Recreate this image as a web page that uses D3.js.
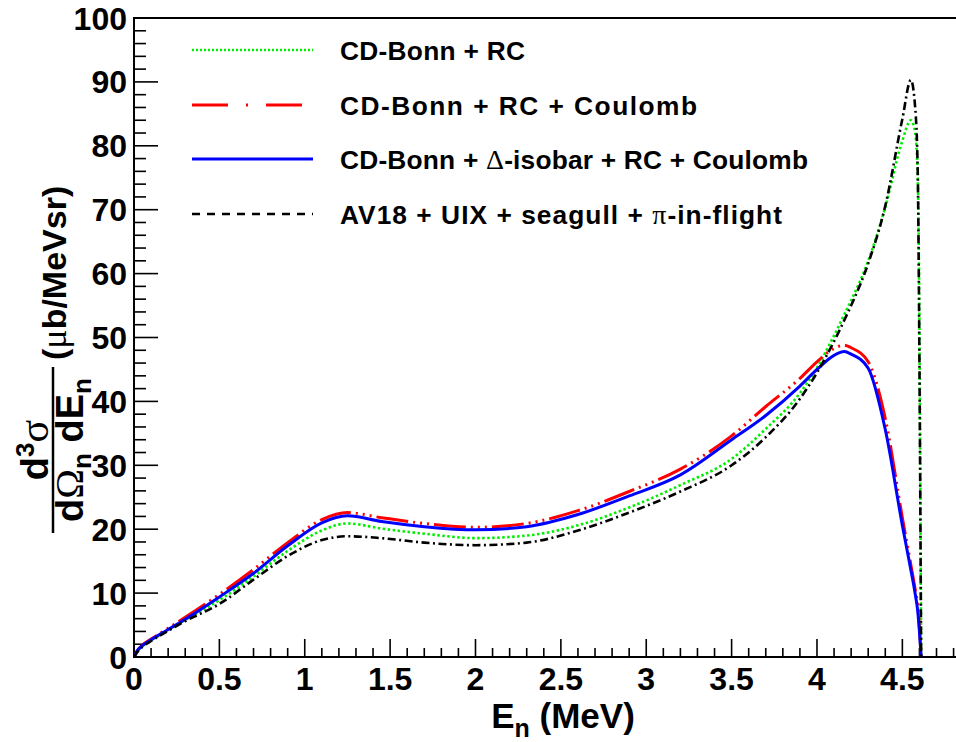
<!DOCTYPE html>
<html><head><meta charset="utf-8">
<script src="https://cdn.jsdelivr.net/npm/d3@7"></script>
<style>html,body{margin:0;padding:0;background:#fff;}svg{display:block;}</style>
</head><body>
<svg id="chart" width="956" height="742"></svg>
<script>
// ---- data ----
const energy = [0, 0.02, 0.05, 0.1, 0.2, 0.3, 0.5, 0.7, 0.9, 1.1, 1.25, 1.45, 1.7, 2.0, 2.3, 2.6, 2.9, 3.2, 3.5, 3.7, 3.9, 4.0, 4.1, 4.16, 4.2, 4.3, 4.4, 4.5, 4.55, 4.575, 4.59, 4.6, 4.61];
const sigmaCDBonnRC =        [0, 0.9, 1.7, 2.6, 4.2, 5.8, 8.9, 12.6, 16.6, 19.8, 20.9, 20.1, 19.3, 18.6, 19.0, 20.6, 23.4, 26.9, 31.0, 35.7, 41.3, 45.3, 50.3, 53.6, 55.8, 62.0, 70.4, 80.8, 84.0, 82.0, 75.0, 52.0, 0];
const sigmaCDBonnRCCoulomb = [0, 1.0, 1.9, 2.8, 4.5, 6.2, 9.8, 13.7, 17.9, 21.5, 22.6, 21.8, 20.9, 20.3, 20.9, 22.9, 25.9, 29.4, 34.6, 39.2, 43.6, 46.2, 48.3, 48.8, 48.4, 46.2, 37.3, 21.8, 14.4, 10.6, 8.0, 4.6, 0];
const sigmaCDBonnDeltaRCCoulomb = [0, 1.0, 1.8, 2.7, 4.3, 5.9, 9.4, 13.1, 17.4, 21.0, 22.1, 21.2, 20.4, 19.9, 20.4, 22.3, 25.2, 28.5, 34.0, 37.8, 42.4, 45.0, 47.2, 47.8, 47.4, 45.2, 35.6, 20.6, 13.6, 9.9, 7.2, 4.0, 0];
const sigmaAV18UIX =         [0, 0.8, 1.6, 2.5, 4.1, 5.6, 8.3, 12.1, 15.8, 18.3, 18.9, 18.6, 17.9, 17.5, 17.9, 19.8, 22.6, 25.9, 30.0, 34.4, 40.4, 44.5, 49.4, 52.7, 55.0, 61.6, 70.6, 84.2, 90.3, 86.0, 76.0, 46.0, 0];
const xTickValues = [0, 0.5, 1, 1.5, 2, 2.5, 3, 3.5, 4, 4.5];
const xTickLabels = ["0", "0.5", "1", "1.5", "2", "2.5", "3", "3.5", "4", "4.5"];
const yTickValues = [0, 10, 20, 30, 40, 50, 60, 70, 80, 90, 100];
const yTickLabels = ["0", "10", "20", "30", "40", "50", "60", "70", "80", "90", "100"];
const legendLabels = [
  ["CD-Bonn + RC"],
  ["CD-Bonn + RC + Coulomb"],
  ["CD-Bonn + ", "Δ", "-isobar + RC + Coulomb"],
  ["AV18 + UIX + seagull + ", "π", "-in-flight"]
];

// ---- layout ----
const svg = d3.select("#chart");
const L = 134, R = 957, T = 18, B = 657;
const x = d3.scaleLinear().domain([0, 4.82]).range([L, R]);
const y = d3.scaleLinear().domain([0, 100]).range([B, T]);
const FONT = "'Liberation Sans', Arial, Helvetica, sans-serif";
const GREEK = "'Liberation Serif', 'DejaVu Serif', serif";

const series = [
  {vals: sigmaCDBonnRC, color: "#00ee00", width: 2.6, dash: "2.5,2.5", ldash: "2,2"},
  {vals: sigmaCDBonnRCCoulomb, color: "#ff0000", width: 3, dash: "32,5,2,5,2,5,2,5", ldash: "36,18,2,18"},
  {vals: sigmaCDBonnDeltaRCCoulomb, color: "#0000ff", width: 3, dash: null, ldash: null},
  {vals: sigmaAV18UIX, color: "#000000", width: 2.6, dash: "8,3.5,2,3.5", ldash: "8,7"}
];

svg.append("defs").append("clipPath").attr("id", "clip")
  .append("rect").attr("x", L).attr("y", T).attr("width", R - L).attr("height", B - T);

// frame
svg.append("rect").attr("x", L).attr("y", T).attr("width", R - L).attr("height", B - T)
  .attr("fill", "none").attr("stroke", "#000").attr("stroke-width", 2);

// ticks
const tickG = svg.append("g").attr("stroke", "#000").attr("stroke-width", 1.6);
d3.range(0, 49).forEach(i => {
  const v = i / 10;
  const major = i % 5 === 0;
  const len = major ? 18 : 9;
  tickG.append("line").attr("x1", x(v)).attr("x2", x(v)).attr("y1", B).attr("y2", B - len);
});
d3.range(0, 51).forEach(i => {
  const v = i * 2;
  const major = v % 10 === 0;
  const len = major ? 24 : 12;
  tickG.append("line").attr("x1", L).attr("x2", L + len).attr("y1", y(v)).attr("y2", y(v));
});

// tick labels
svg.append("g").selectAll("text").data(xTickValues).join("text")
  .attr("x", d => x(d)).attr("y", 690).attr("text-anchor", "middle")
  .attr("font-family", FONT).attr("font-weight", "bold").attr("font-size", 32)
  .text((d, i) => xTickLabels[i]);
svg.append("g").selectAll("text").data(yTickValues).join("text")
  .attr("x", 127).attr("y", d => y(d) + 11.5).attr("text-anchor", "end")
  .attr("font-family", FONT).attr("font-weight", "bold").attr("font-size", 32)
  .text((d, i) => yTickLabels[i]);

// x axis title
const xt = svg.append("text").attr("x", 563).attr("y", 728).attr("text-anchor", "middle")
  .attr("font-family", FONT).attr("font-weight", "bold").attr("font-size", 35);
xt.append("tspan").text("E");
xt.append("tspan").attr("font-size", 25).attr("dy", 9).text("n");
xt.append("tspan").attr("dy", -9).text(" (MeV)");

// y axis title (rotated)
const yt = svg.append("g").attr("transform", "translate(53,450) rotate(-90)")
  .attr("font-family", FONT).attr("font-weight", "bold").attr("font-size", 38);
yt.append("line").attr("x1", -83).attr("x2", 83).attr("y1", 0).attr("y2", 0)
  .attr("stroke", "#000").attr("stroke-width", 2.5);
const num = yt.append("text").attr("x", 0).attr("y", -5).attr("text-anchor", "middle");
num.append("tspan").text("d");
num.append("tspan").attr("font-size", 26).attr("dy", -14).text("3");
num.append("tspan").attr("dy", 14).attr("font-family", GREEK).attr("font-weight", "normal").attr("font-size", 42).text("σ");
const den = yt.append("text").attr("x", 0).attr("y", 30).attr("text-anchor", "middle");
den.append("tspan").text("d");
den.append("tspan").attr("font-family", GREEK).attr("font-weight", "normal").attr("font-size", 40).text("Ω");
den.append("tspan").attr("font-size", 26).attr("dy", 8).text("n");
den.append("tspan").attr("dy", -8).text(" dE");
den.append("tspan").attr("font-size", 26).attr("dy", 8).text("n");
const unit = yt.append("text").attr("x", 90).attr("y", 13).attr("text-anchor", "start").attr("font-size", 34);
unit.append("tspan").text("(");
unit.append("tspan").attr("font-family", GREEK).attr("font-weight", "normal").attr("font-size", 36).text("μ");
unit.append("tspan").text("b/MeVsr)");

// curves
const line = d3.line().x((d, i) => x(energy[i])).y(d => y(d)).curve(d3.curveMonotoneX);
const plotG = svg.append("g").attr("clip-path", "url(#clip)");
series.forEach(s => {
  plotG.append("path").attr("d", line(s.vals)).attr("fill", "none")
    .attr("stroke", s.color).attr("stroke-width", s.width)
    .attr("stroke-dasharray", s.dash).attr("stroke-linejoin", "round");
});

// legend
const rowsY = [50, 105, 159, 214];
const rowsWidth = [185, 357, 468, 442];
series.forEach((s, i) => {
  svg.append("line").attr("x1", 192).attr("x2", 313).attr("y1", rowsY[i]).attr("y2", rowsY[i])
    .attr("stroke", s.color).attr("stroke-width", s.width).attr("stroke-dasharray", s.ldash);
  const t = svg.append("text").attr("x", 340).attr("y", rowsY[i] + 9.5)
    .attr("font-family", FONT).attr("font-weight", "bold").attr("font-size", 26.3)
    .attr("textLength", rowsWidth[i]).attr("lengthAdjust", "spacing");
  legendLabels[i].forEach((part, k) => {
    const sp = t.append("tspan").text(part);
    if (k === 1) sp.attr("font-family", GREEK).attr("font-weight", "normal").attr("font-size", 28);
  });
});
</script>
</body></html>
